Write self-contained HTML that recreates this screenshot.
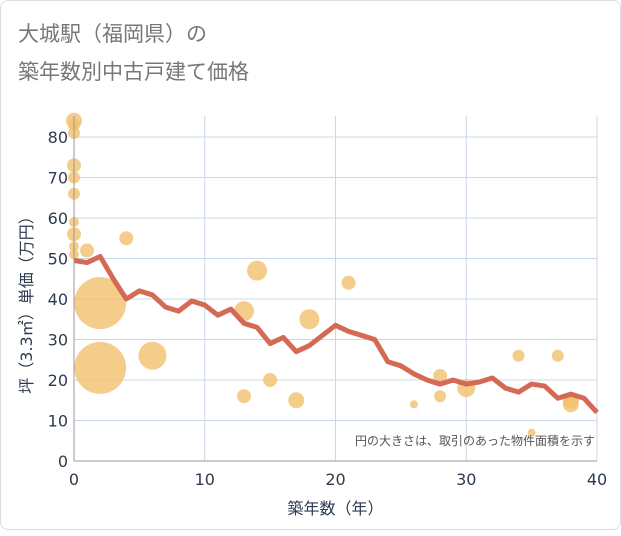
<!DOCTYPE html>
<html><head><meta charset="utf-8"><style>
body{margin:0;background:#fff;}
#card{position:absolute;left:0;top:0;width:619px;height:528px;border:1px solid #ddd;border-radius:8px;background:#fff;}
text{font-family:"DejaVu Sans","Noto Sans CJK JP",sans-serif;}
</style></head><body>
<div id="card">
<svg id="chart" width="621" height="530">
<text x="17" y="40" font-size="21" fill="#777">大城駅（福岡県）の</text>
<text x="17" y="78" font-size="21" fill="#777">築年数別中古戸建て価格</text>
<g id="grid"></g><g id="bubbles"></g><g id="line"></g><g id="axes"></g>
</svg></div>
<script>
const years=[0,1,2,3,4,5,6,7,8,9,10,11,12,13,14,15,16,17,18,19,20,21,22,23,24,25,26,27,28,29,30,31,32,33,34,35,36,37,38,39,40];
const avgPrice=[49.5,49,50.5,45,40,42,41,38,37,39.5,38.5,36,37.5,34,33,29,30.5,27,28.5,31,33.5,32,31,30,24.5,23.5,21.5,20,19,20,19,19.5,20.5,18,17,19,18.5,15.5,16.5,15.5,12];
const bubbleAge=[0,0,0,0,0,0,0,0,0,0,1,2,2,4,6,13,13,14,15,17,18,21,26,28,28,30,34,35,37,38,38];
const bubblePrice=[84,83,81,73,70,66,59,56,53,51,52,39,23,55,26,37,16,47,20,15,35,44,14,21,16,18,26,7,26,15,14];
const bubbleSize=[8,6,6,7,6,6,5,7,5,5,7,26,26,7,14,10,7,10,7,8,10,7,4,7,6,9,6,4,6,8,8];
const xTicks=[0,10,20,30,40];
const yTicks=[0,10,20,30,40,50,60,70,80];
const NS="http://www.w3.org/2000/svg";
const X0=73,X1=596,Y0=460,Y1=115;
const sx=v=>X0+(X1-X0)*v/40;
const sy=v=>Y0-v*4.05;
function mk(p,tag,attrs){const e=document.createElementNS(NS,tag);for(const k in attrs)e.setAttribute(k,attrs[k]);document.getElementById(p).appendChild(e);return e;}
yTicks.forEach(t=>{const l=mk('grid','line',{x1:X0,x2:X1,y1:sy(t),y2:sy(t),stroke:'#c9d8e8','stroke-width':1});


const tx=mk('axes','text',{x:X0-6,y:sy(t)+6,'text-anchor':'end','font-size':16,fill:'#2d3b4e'});tx.textContent=t;

});
xTicks.forEach(t=>{const l=mk('grid','line',{x1:sx(t),x2:sx(t),y1:Y1,y2:Y0,stroke:'#c9d8e8','stroke-width':1});


const tx=mk('axes','text',{x:sx(t),y:484,'text-anchor':'middle','font-size':16,fill:'#2d3b4e'});tx.textContent=t;

});
bubbleAge.forEach((a,i)=>{const c=mk('bubbles','circle',{cx:sx(a),cy:sy(bubblePrice[i]),r:bubbleSize[i],fill:'rgba(242,192,110,0.8)'});

});
const pl=mk('line','polyline',{points:years.map((y,i)=>sx(y)+','+sy(avgPrice[i])).join(' '),fill:'none',stroke:'#d46a55','stroke-width':5,'stroke-linejoin':'round'});


mk('axes','line',{x1:X0,x2:X0,y1:Y1,y2:Y0,stroke:'#999','stroke-width':1});
mk('axes','line',{x1:X0,x2:X1,y1:Y0,y2:Y0,stroke:'#999','stroke-width':1});
const xt=mk('axes','text',{x:(X0+X1)/2,y:513,'text-anchor':'middle','font-size':16,fill:'#2d3b4e'});xt.textContent='築年数（年）';


const yt=mk('axes','text',{x:0,y:0,'text-anchor':'middle','font-size':16,fill:'#2d3b4e',transform:'translate(31,300) rotate(-90)'});yt.textContent='坪（3.3㎡）単価（万円）';


const note=mk('axes','text',{x:594,y:444,'text-anchor':'end','font-size':12,fill:'#555'});note.textContent='円の大きさは、取引のあった物件面積を示す';


</script>
</body></html>
